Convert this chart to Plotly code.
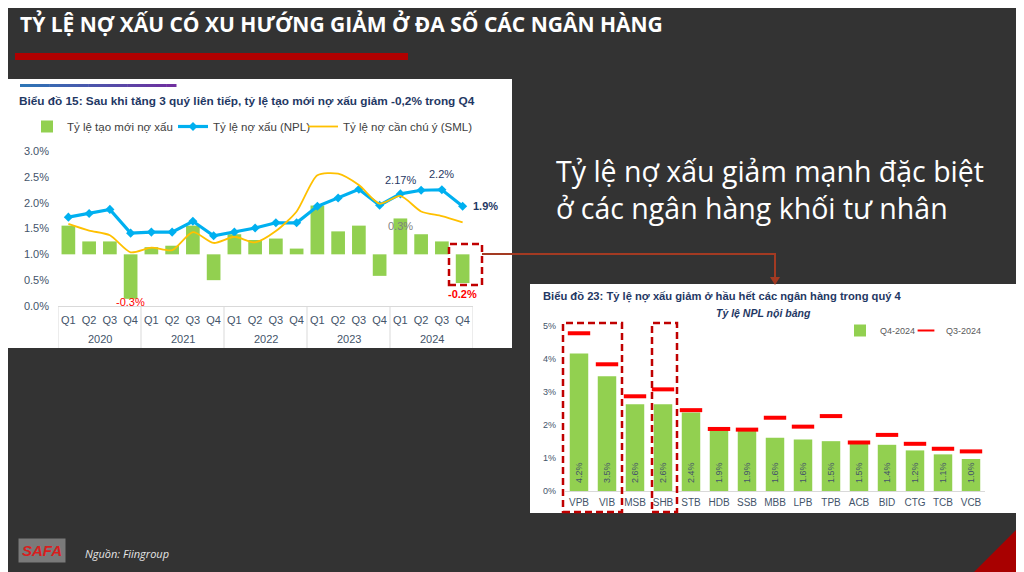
import plotly.graph_objects as go

W, H = 1024, 572
OFF = 8  # trang được hiển thị lệch 8px, bù lại


def px(x):
    return (x - OFF) / W


def py(y):
    return 1 - (y - OFF) / H


# Biểu đồ 15 - dữ liệu theo quý 2020-2024
quy = ['Q1', 'Q2', 'Q3', 'Q4'] * 5
nam = ['2020', '2021', '2022', '2023', '2024']
tao_moi = [0.20, 0.09, 0.09, -0.31, 0.05, 0.06, 0.20, -0.18, 0.14, 0.10,
           0.11, 0.04, 0.34, 0.16, 0.20, -0.15, 0.25, 0.14, 0.09, -0.20]
npl = [1.72, 1.79, 1.87, 1.41, 1.43, 1.43, 1.64, 1.36, 1.43, 1.51,
       1.61, 1.61, 1.93, 2.09, 2.26, 1.95, 2.17, 2.24, 2.25, 1.93]
sml = [1.59, 1.46, 1.37, 1.04, 1.13, 1.08, 1.43, 1.22, 1.34, 1.23,
       1.45, 1.83, 2.53, 2.56, 2.34, 1.98, 2.13, 1.83, 1.74, 1.62]
y_ticks = [0, 0.5, 1.0, 1.5, 2.0, 2.5, 3.0]

# Biểu đồ 23 - NPL nội bảng theo ngân hàng
ngan_hang = ['VPB', 'VIB', 'MSB', 'SHB', 'STB', 'HDB', 'SSB', 'MBB',
             'LPB', 'TPB', 'ACB', 'BID', 'CTG', 'TCB', 'VCB']
npl_q4 = [4.17, 3.48, 2.63, 2.63, 2.38, 1.92, 1.88, 1.61,
          1.56, 1.51, 1.47, 1.40, 1.23, 1.11, 0.97]
npl_q3 = [4.78, 3.84, 2.87, 3.08, 2.45, 1.88, 1.86, 2.22,
          1.95, 2.27, 1.47, 1.70, 1.43, 1.28, 1.20]
y3_ticks = [0, 1, 2, 3, 4, 5]

NAVY = '#1F3864'
TICK = '#44546A'
FONT = 'Liberation Sans, Arial, sans-serif'

idx = list(range(len(quy)))

fig = go.Figure()

# --- biểu đồ trái ---
fig.add_trace(go.Bar(
    x=idx, y=tao_moi, xaxis='x', yaxis='y',
    marker=dict(color='#92D050', line=dict(width=0)), width=0.66,
    name='Tỷ lệ tạo mới nợ xấu', legend='legend'
))
fig.add_trace(go.Scatter(
    x=idx, y=npl, xaxis='x', yaxis='y2', mode='lines+markers',
    line=dict(color='#00B0F0', width=3.2),
    marker=dict(symbol='diamond', size=7, color='#00B0F0'),
    name='Tỷ lệ nợ xấu (NPL)', legend='legend2'
))
fig.add_trace(go.Scatter(
    x=idx, y=sml, xaxis='x', yaxis='y2', mode='lines',
    line=dict(color='#FFC000', width=1.8, shape='spline', smoothing=0.7),
    name='Tỷ lệ nợ cần chú ý (SML)', legend='legend3'
))

# --- biểu đồ phải ---
fig.add_trace(go.Bar(
    x=ngan_hang, y=npl_q4, xaxis='x3', yaxis='y3',
    marker=dict(color='#92D050', line=dict(width=0)), width=0.66,
    text=['\u00a0\u00a0' + f'{v:.1f}%' for v in npl_q4], textposition='inside',
    insidetextanchor='start', textangle=-90, constraintext='none',
    textfont=dict(size=9, color=TICK, family=FONT),
    name='Q4-2024', legend='legend4'
))
fig.add_trace(go.Scatter(
    x=ngan_hang, y=npl_q3, xaxis='x3', yaxis='y3', mode='markers',
    marker=dict(symbol='line-ew-open', size=16, color='#FF0000',
                line=dict(color='#FF0000', width=4)),
    name='Q3-2024', legend='legend5'
))

shapes = []
# khung trắng
shapes.append(dict(type='rect', xref='paper', yref='paper', layer='below',
                   x0=px(5), x1=px(512), y0=py(348), y1=py(79),
                   fillcolor='white', line=dict(width=0)))
shapes.append(dict(type='rect', xref='paper', yref='paper', layer='below',
                   x0=px(530), x1=px(1018), y0=py(513), y1=py(284),
                   fillcolor='white', line=dict(width=0)))
# gạch đỏ dưới tiêu đề
shapes.append(dict(type='rect', xref='paper', yref='paper',
                   x0=px(15), x1=px(408), y0=py(60), y1=py(53),
                   fillcolor='#B00000', line=dict(width=0)))
# thanh gradient xanh-tím
c0, c1 = (46, 117, 182), (112, 48, 160)
n = 16
for i in range(n):
    t = i / (n - 1)
    col = 'rgb(%d,%d,%d)' % tuple(int(a + (b - a) * t) for a, b in zip(c0, c1))
    shapes.append(dict(type='rect', xref='paper', yref='paper',
                       x0=px(20 + 156 * i / n), x1=px(20 + 156 * (i + 1) / n + 0.5),
                       y0=py(87), y1=py(84), fillcolor=col, line=dict(width=0)))
# vạch chia năm
for b in [-0.5, 3.5, 7.5, 11.5, 15.5, 19.5]:
    shapes.append(dict(type='line', xref='x', yref='paper', x0=b, x1=b,
                       y0=py(348), y1=py(306), line=dict(color='#D9D9D9', width=1)))
# khung nét đứt đỏ
dash = dict(color='#C00000', width=2.5, dash='7px,4px')
shapes.append(dict(type='rect', xref='paper', yref='paper',
                   x0=px(449), x1=px(482), y0=py(285), y1=py(244), line=dash))
shapes.append(dict(type='rect', xref='paper', yref='paper',
                   x0=px(563), x1=px(622), y0=py(512), y1=py(323), line=dash))
shapes.append(dict(type='rect', xref='paper', yref='paper',
                   x0=px(652), x1=px(677), y0=py(512), y1=py(323), line=dash))
# đường nối
conn = dict(color='#A33A22', width=2)
shapes.append(dict(type='path', xref='paper', yref='paper',
                   path='M %f,%f L %f,%f L %f,%f' % (px(482), py(254), px(775), py(254), px(775), py(278)),
                   line=conn))
shapes.append(dict(type='path', xref='paper', yref='paper',
                   path='M %f,%f L %f,%f L %f,%f Z' % (px(770), py(277), px(780), py(277), px(775), py(285)),
                   fillcolor='#A33A22', line=dict(width=0)))
# tam giác đỏ góc phải
shapes.append(dict(type='path', xref='paper', yref='paper',
                   path='M %f,%f L %f,%f L %f,%f Z' % (px(966), py(580), px(1032), py(514), px(1032), py(580)),
                   fillcolor='#A80000', line=dict(width=0)))

ann = []
ann.append(dict(text='<b>TỶ LỆ NỢ XẤU CÓ XU HƯỚNG GIẢM Ở ĐA SỐ CÁC NGÂN HÀNG</b>',
                xref='paper', yref='paper', x=px(18), y=py(24), xanchor='left', yanchor='middle',
                showarrow=False, font=dict(family='Open Sans', size=21, color='white')))
ann.append(dict(text='<b>Biểu đồ 15: Sau khi tăng 3 quý liên tiếp, tỷ lệ tạo mới nợ xấu giảm -0,2% trong Q4</b>',
                xref='paper', yref='paper', x=px(17), y=py(101), xanchor='left', yanchor='middle',
                showarrow=False, font=dict(family=FONT, size=11.8, color=NAVY)))
ann.append(dict(text='<b>Biểu đồ 23: Tỷ lệ nợ xấu giảm ở hầu hết các ngân hàng trong quý 4</b>',
                xref='paper', yref='paper', x=px(541), y=py(296), xanchor='left', yanchor='middle',
                showarrow=False, font=dict(family=FONT, size=11.2, color=NAVY)))
ann.append(dict(text='<b><i>Tỷ lệ NPL nội bảng</i></b>',
                xref='paper', yref='paper', x=px(763), y=py(313), xanchor='center', yanchor='middle',
                showarrow=False, font=dict(family=FONT, size=10.5, color=NAVY)))
ann.append(dict(text='Tỷ lệ nợ xấu giảm mạnh đặc biệt<br>ở các ngân hàng khối tư nhân',
                xref='paper', yref='paper', x=px(554), y=py(190), xanchor='left', yanchor='middle',
                align='left', showarrow=False,
                font=dict(family='Open Sans', size=28.5, color='white')))
ann.append(dict(text='<i>Nguồn: Fiingroup</i>',
                xref='paper', yref='paper', x=px(83), y=py(553), xanchor='left', yanchor='middle',
                showarrow=False, font=dict(family='Open Sans', size=11, color='#E6E6E6')))
ann.append(dict(text='<b><i>SAFA</i></b>',
                xref='paper', yref='paper', x=px(42), y=py(550), xanchor='center', yanchor='middle',
                showarrow=False, bgcolor='rgba(255,255,255,0.35)', borderpad=3,
                font=dict(family='Liberation Sans', size=15, color='#D81E1E')))
# năm
for i, y_ in enumerate(nam):
    ann.append(dict(text=y_, xref='x', yref='paper', x=4 * i + 1.5, y=py(339),
                    showarrow=False, font=dict(family=FONT, size=11, color=TICK)))
# nhãn số liệu
ann.append(dict(text='-0.3%', xref='x', yref='y', x=3, y=tao_moi[3], yanchor='top', yshift=5,
                showarrow=False, font=dict(family=FONT, size=11, color='#FF0000')))
ann.append(dict(text='<b>-0.2%</b>', xref='x', yref='y', x=19, y=tao_moi[19], yanchor='top', yshift=-3,
                showarrow=False, font=dict(family=FONT, size=11, color='#FF0000')))
ann.append(dict(text='0.3%', xref='x', yref='y', x=16, y=tao_moi[16], yanchor='top', yshift=0,
                showarrow=False, font=dict(family=FONT, size=11, color='#7F7F7F')))
ann.append(dict(text='2.17%', xref='x', yref='y2', x=16, y=npl[16], yanchor='bottom', yshift=6,
                showarrow=False, font=dict(family=FONT, size=11, color=NAVY)))
ann.append(dict(text='2.2%', xref='x', yref='y2', x=18, y=npl[18], yanchor='bottom', yshift=8,
                showarrow=False, font=dict(family=FONT, size=11, color=NAVY)))
ann.append(dict(text='<b>1.9%</b>', xref='x', yref='y2', x=19, y=npl[19], xanchor='left', xshift=8,
                showarrow=False, font=dict(family=FONT, size=11, color=NAVY)))


def leg(x0, y_top, size, color, **kw):
    # chữ của chú thích bắt đầu khoảng 40px sau mốc x0
    return dict(orientation='h', x=px(x0), y=py(y_top), xanchor='left', yanchor='top',
                bgcolor='rgba(0,0,0,0)', itemwidth=30,
                font=dict(size=size, color=color, family=FONT), **kw)


fig.update_layout(
    width=W, height=H,
    margin=dict(l=0, r=0, t=0, b=0, autoexpand=False),
    paper_bgcolor='#333333', plot_bgcolor='rgba(0,0,0,0)',
    font=dict(family=FONT),
    barmode='overlay', showlegend=True,
    shapes=shapes, annotations=ann,
    xaxis=dict(domain=[px(58), px(473)], range=[-0.5, 19.5], anchor='y2',
               tickvals=idx, ticktext=quy, ticks='', showgrid=False, zeroline=False,
               showline=True, linecolor='#D9D9D9', ticklabelstandoff=4, automargin=False,
               tickfont=dict(size=11, color=TICK, family=FONT)),
    yaxis=dict(domain=[py(306), py(151)], range=[-0.36, 0.72], visible=False,
               showgrid=False, zeroline=False, automargin=False),
    yaxis2=dict(domain=[py(306), py(151)], range=[0, 3], overlaying='y', side='left',
                anchor='x', tickvals=y_ticks, ticktext=[f'{v:.1f}%' for v in y_ticks],
                showgrid=False, zeroline=False, showline=False, ticks='', automargin=False,
                ticklabelstandoff=8, tickfont=dict(size=11, color=TICK, family=FONT)),
    xaxis3=dict(domain=[px(565), px(985)], range=[-0.5, 14.5], anchor='y3', ticks='',
                showgrid=False, showline=True, linecolor='#D9D9D9', ticklabelstandoff=2,
                automargin=False, tickfont=dict(size=10, color=TICK, family=FONT)),
    yaxis3=dict(domain=[py(491), py(326)], range=[0, 5], anchor='x3',
                tickvals=y3_ticks, ticktext=[f'{v}%' for v in y3_ticks], showgrid=False,
                zeroline=False, ticks='', ticklabelstandoff=8, automargin=False,
                tickfont=dict(size=9, color=TICK, family=FONT)),
    legend=leg(27, 112, 11.5, '#404040'),
    legend2=leg(173, 112, 11.5, '#404040'),
    legend3=leg(303, 112, 11.5, '#404040'),
    legend4=leg(840, 316, 9, '#595959'),
    legend5=leg(906, 316, 9, '#595959', itemsizing='constant'),
)

fig.write_html("out.html")
